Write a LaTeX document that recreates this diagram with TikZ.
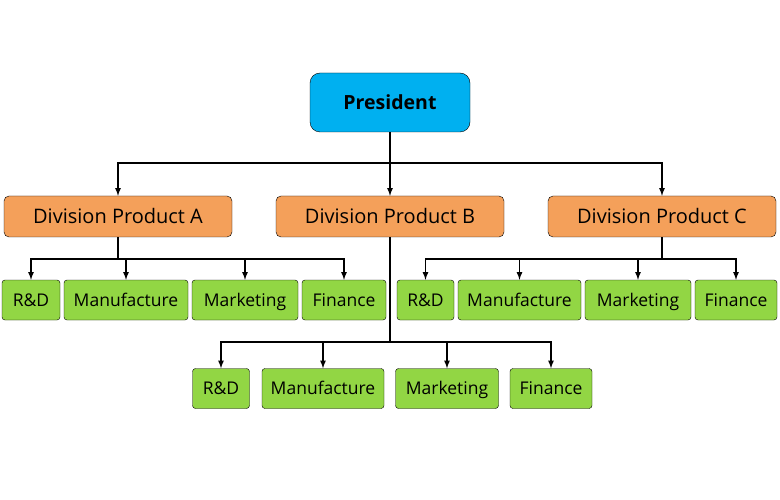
\documentclass[tikz,border=0pt]{standalone}
\usepackage{fontspec}
\setmainfont{Open Sans}
\usepackage{tikz}
\usetikzlibrary{arrows,positioning,calc}

\definecolor{presblue}{RGB}{0,176,240}
\definecolor{divorange}{RGB}{244,160,90}
\definecolor{deptgreen}{RGB}{146,214,68}

\tikzset{
  pres/.style={draw=black, fill=presblue, rounded corners=10pt, minimum width=160pt, minimum height=59pt, text height=17.9pt, text depth=4pt, font=\fontsize{19.5}{23}\selectfont\bfseries},
  division/.style={draw=black, fill=divorange, rounded corners=5pt, minimum height=41pt, text height=18.3pt, text depth=4pt, font=\fontsize{20}{24}\selectfont},
  dept/.style={draw=black, fill=deptgreen, rounded corners=3pt, minimum height=40pt, inner xsep=0pt, text height=16.5pt, text depth=4pt, font=\fontsize{17.5}{21}\selectfont},
  link/.style={-latex, line width=1.6pt}
}

\begin{document}
\begin{tikzpicture}[x=1pt, y=1pt]
  \useasboundingbox (0,0) rectangle (780,-500);

  \node (Pres) [pres] at (390,-102.5) {President};

  \node (DivA) [division, minimum width=228pt] at (118,-216.5) {Division Product A};
  \node (DivB) [division, minimum width=228pt] at (390,-216.5) {Division Product B};
  \node (DivC) [division, minimum width=228pt] at (662,-216.5) {Division Product C};

  % departments of A
  \node (RDA) [dept, minimum width=58pt] at (31,-300) {R\&D};
  \node (ManA) [dept, minimum width=124pt] at (126,-300) {Manufacture};
  \node (MarA) [dept, minimum width=106pt] at (245,-300) {Marketing};
  \node (FinA) [dept, minimum width=84pt] at (344,-300) {Finance};

  % departments of C
  \node (RDC) [dept, minimum width=57pt] at (425.5,-300) {R\&D};
  \node (ManC) [dept, minimum width=123pt] at (519.5,-300) {Manufacture};
  \node (MarC) [dept, minimum width=106pt] at (638,-300) {Marketing};
  \node (FinC) [dept, minimum width=82pt] at (736,-300) {Finance};

  % departments of B
  \node (RDB) [dept, minimum width=57pt] at (221,-388.5) {R\&D};
  \node (ManB) [dept, minimum width=122pt] at (323,-388.5) {Manufacture};
  \node (MarB) [dept, minimum width=103pt] at (447,-388.5) {Marketing};
  \node (FinB) [dept, minimum width=82pt] at (551,-388.5) {Finance};

  \coordinate (busP) at ($(Pres.south)+(0,-31)$);
  \coordinate (busA) at ($(DivA.south)+(0,-22)$);
  \coordinate (busB) at ($(DivB.south)+(0,-105)$);
  \coordinate (busC) at ($(DivC.south)+(0,-22)$);

  \draw [line width=1.6pt] (Pres.south) -- (busP);
  \draw [line width=1.6pt] (DivA.south) -- (busA);
  \draw [line width=1.6pt] (DivB.south) -- (busB);
  \draw [line width=1.6pt] (DivC.south) -- (busC);

  \foreach \n in {DivA,DivB,DivC}
    \draw [link] (busP) -| (\n.north);
  \foreach \n in {RDA,ManA,MarA,FinA}
    \draw [link] (busA) -| (\n.north);
  \foreach \n in {RDB,ManB,MarB,FinB}
    \draw [link] (busB) -| (\n.north);
  \foreach \n in {RDC,ManC,MarC,FinC}
    \draw [link] (busC) -| (\n.north);
\end{tikzpicture}
\end{document}
